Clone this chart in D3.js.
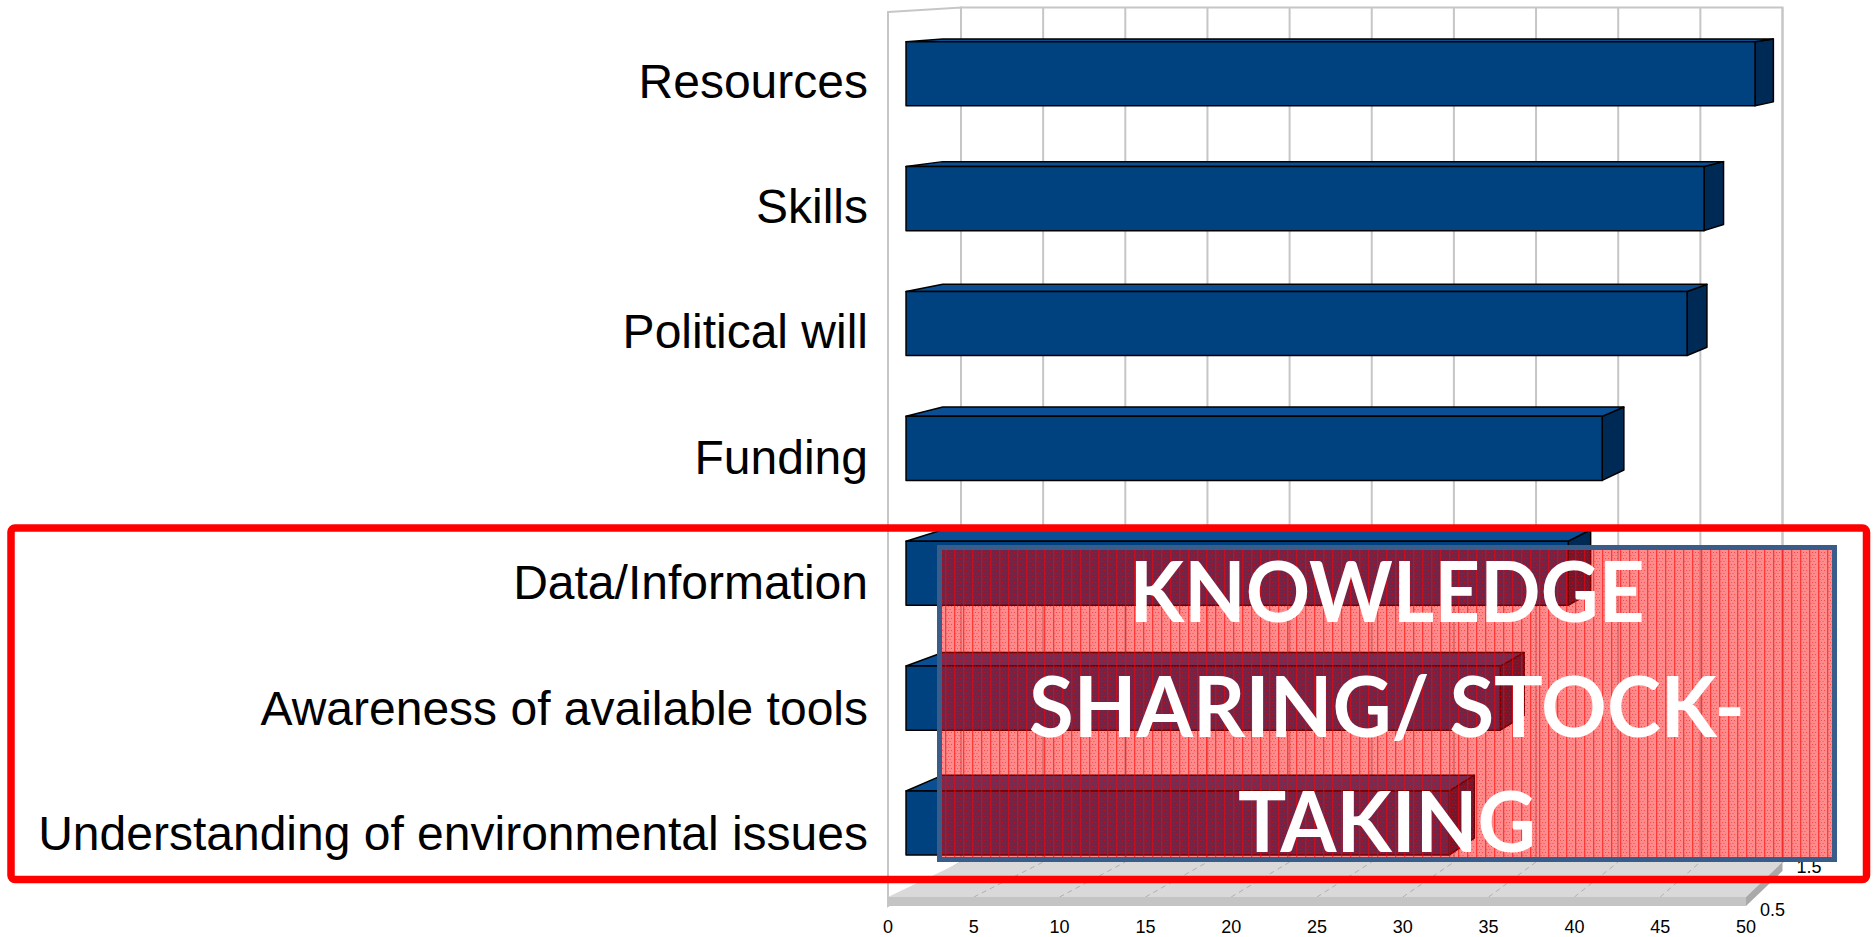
<!DOCTYPE html>
<html>
<head>
<meta charset="utf-8">
<script src="https://cdn.jsdelivr.net/npm/d3@7"></script>
<style>
  html, body { margin: 0; padding: 0; background: #fff; overflow: hidden; }
</style>
</head>
<body>
<div id="chart"></div>
<script>
// data
const categories = [
  "Resources",
  "Skills",
  "Political will",
  "Funding",
  "Data/Information",
  "Awareness of available tools",
  "Understanding of environmental issues"
];
const values = [50, 47, 46, 41, 39, 35, 32];
const xTicks = [0, 5, 10, 15, 20, 25, 30, 35, 40, 45, 50];
const depthTicks = ["0.5", "1.5"];
const overlayLines = ["KNOWLEDGE", "SHARING/ STOCK-", "TAKING"];

const width = 1873, height = 937;

const svg = d3.select("#chart")
  .append("svg")
  .attr("width", width)
  .attr("height", height)
  .attr("viewBox", `0 0 ${width} ${height}`);

// 3D perspective: value axis on the front plane and on the back wall
const xFront = d3.scaleLinear().domain([0, 50]).range([888, 1746]);
const xBack = d3.scaleLinear().domain([0, 50]).range([961, 1782.5]);
const xAt = (v, d) => xFront(v) * (1 - d) + xBack(v) * d;
// a front-plane y mapped onto the back wall
const yBack = d3.scaleLinear().domain([12, 897]).range([7.5, 862]);
const shiftY = (y, dd) => y + (yBack(y) - y) * dd;

const floorY = 897, floorThick = 9, wallTop = 12;
const d0 = 0.247, d1 = 0.75; // depth of the bars

const y = d3.scaleBand()
  .domain(categories)
  .range([41.7, 855])
  .paddingInner(0.487)
  .paddingOuter(0);

const labelY = d3.scalePoint()
  .domain(categories)
  .range([97.5, 850]);

const poly = pts => "M" + pts.map(p => p.join(",")).join("L") + "Z";

// pattern for the callout box
const defs = svg.append("defs");
const pat = defs.append("pattern")
  .attr("id", "redHatch")
  .attr("patternUnits", "userSpaceOnUse")
  .attr("width", 9)
  .attr("height", 6);
pat.append("rect").attr("width", 9).attr("height", 6).attr("fill", "#ff0000").attr("fill-opacity", 0.45);
pat.append("rect").attr("x", 0).attr("width", 1.3).attr("height", 6).attr("fill", "#ff0000").attr("fill-opacity", 0.6);
[[3, 0], [6, 0], [4.5, 3], [1.5, 3]].forEach(([px, py]) => {
  pat.append("rect").attr("x", px).attr("y", py).attr("width", 1).attr("height", 1)
    .attr("fill", "#ff0000").attr("fill-opacity", 0.5);
});

const gridColor = "#c6c6c6";

// back wall
svg.append("rect")
  .attr("x", xBack(0))
  .attr("y", yBack(wallTop))
  .attr("width", xBack(50) - xBack(0))
  .attr("height", yBack(floorY) - yBack(wallTop))
  .attr("fill", "#fff")
  .attr("stroke", gridColor)
  .attr("stroke-width", 2);

svg.append("g").selectAll("line")
  .data(xTicks)
  .join("line")
  .attr("x1", d => xBack(d))
  .attr("x2", d => xBack(d))
  .attr("y1", yBack(wallTop))
  .attr("y2", yBack(floorY))
  .attr("stroke", gridColor)
  .attr("stroke-width", 2);

// side wall
svg.append("path")
  .attr("d", poly([
    [xFront(0), wallTop], [xBack(0), yBack(wallTop)],
    [xBack(0), yBack(floorY)], [xFront(0), floorY + floorThick]
  ]))
  .attr("fill", "#fff")
  .attr("stroke", gridColor)
  .attr("stroke-width", 2);

// floor
svg.append("path")
  .attr("d", poly([
    [xFront(0), floorY], [xFront(50), floorY],
    [xBack(50), yBack(floorY)], [xBack(0), yBack(floorY)]
  ]))
  .attr("fill", "#d9d9d9");

svg.append("g").selectAll("line")
  .data(xTicks.slice(1, -1))
  .join("line")
  .attr("x1", d => xFront(d))
  .attr("y1", floorY)
  .attr("x2", d => xBack(d))
  .attr("y2", yBack(floorY))
  .attr("stroke", "#b0b0b0")
  .attr("stroke-width", 1)
  .attr("stroke-dasharray", "5,4");

svg.append("rect")
  .attr("x", xFront(0))
  .attr("y", floorY)
  .attr("width", xFront(50) - xFront(0))
  .attr("height", floorThick)
  .attr("fill", "#c4c4c4");

svg.append("path")
  .attr("d", poly([
    [xFront(50), floorY], [xBack(50), yBack(floorY)],
    [xBack(50), yBack(floorY) + floorThick], [xFront(50), floorY + floorThick]
  ]))
  .attr("fill", "#a9a9a9");

// bars
const bars = svg.append("g")
  .attr("stroke", "#000")
  .attr("stroke-width", 1.5)
  .attr("stroke-linejoin", "round");

categories.forEach((cat, i) => {
  const v = values[i];
  const top = y(cat), bot = y(cat) + y.bandwidth();
  const topB = shiftY(top, d1 - d0), botB = shiftY(bot, d1 - d0);

  bars.append("path")
    .attr("d", poly([[xAt(v, d0), top], [xAt(v, d1), topB], [xAt(v, d1), botB], [xAt(v, d0), bot]]))
    .attr("fill", "#002a56");

  bars.append("path")
    .attr("d", poly([[xAt(0, d0), top], [xAt(v, d0), top], [xAt(v, d1), topB], [xAt(0, d1), topB]]))
    .attr("fill", "#0a4f94");

  bars.append("rect")
    .attr("x", xAt(0, d0))
    .attr("y", top)
    .attr("width", xAt(v, d0) - xAt(0, d0))
    .attr("height", y.bandwidth())
    .attr("fill", "#004280");
});

// value axis labels
svg.append("g").selectAll("text")
  .data(xTicks)
  .join("text")
  .attr("x", d => xFront(d))
  .attr("y", 933)
  .attr("text-anchor", "middle")
  .attr("font-family", "'Liberation Sans', Arial, sans-serif")
  .attr("font-size", 18)
  .attr("fill", "#000")
  .text(d => d);

// depth axis labels
svg.append("g").selectAll("text")
  .data(depthTicks)
  .join("text")
  .attr("x", (d, i) => xAt(50, i) + 14)
  .attr("y", (d, i) => shiftY(floorY + floorThick, i) + 10 - 8 * i)
  .attr("font-family", "'Liberation Sans', Arial, sans-serif")
  .attr("font-size", 18)
  .attr("fill", "#000")
  .text(d => d);

// category labels
svg.append("g").selectAll("text")
  .data(categories)
  .join("text")
  .attr("x", 868)
  .attr("y", d => labelY(d))
  .attr("text-anchor", "end")
  .attr("font-family", "'Liberation Sans', Arial, sans-serif")
  .attr("font-size", 48)
  .attr("fill", "#000")
  .text(d => d);

// red highlight frame
svg.append("rect")
  .attr("x", 11)
  .attr("y", 528)
  .attr("width", 1855.5)
  .attr("height", 351.5)
  .attr("rx", 4)
  .attr("fill", "none")
  .attr("stroke", "#ff0000")
  .attr("stroke-width", 7.5);

// callout box
svg.append("rect")
  .attr("x", 939.5)
  .attr("y", 547.5)
  .attr("width", 895)
  .attr("height", 312)
  .attr("fill", "url(#redHatch)")
  .attr("stroke", "#385d8a")
  .attr("stroke-width", 5);

const lineWidths = [515, 716, 298];
svg.append("g").selectAll("text")
  .data(overlayLines)
  .join("text")
  .attr("x", 1387)
  .attr("y", (d, i) => 621.7 + i * 115)
  .attr("text-anchor", "middle")
  .attr("font-family", "Lato, 'Open Sans', sans-serif")
  .attr("font-weight", "bold")
  .attr("font-size", 84)
  .attr("fill", "#fff")
  .attr("textLength", (d, i) => lineWidths[i])
  .attr("lengthAdjust", "spacingAndGlyphs")
  .text(d => d);
</script>
</body>
</html>
